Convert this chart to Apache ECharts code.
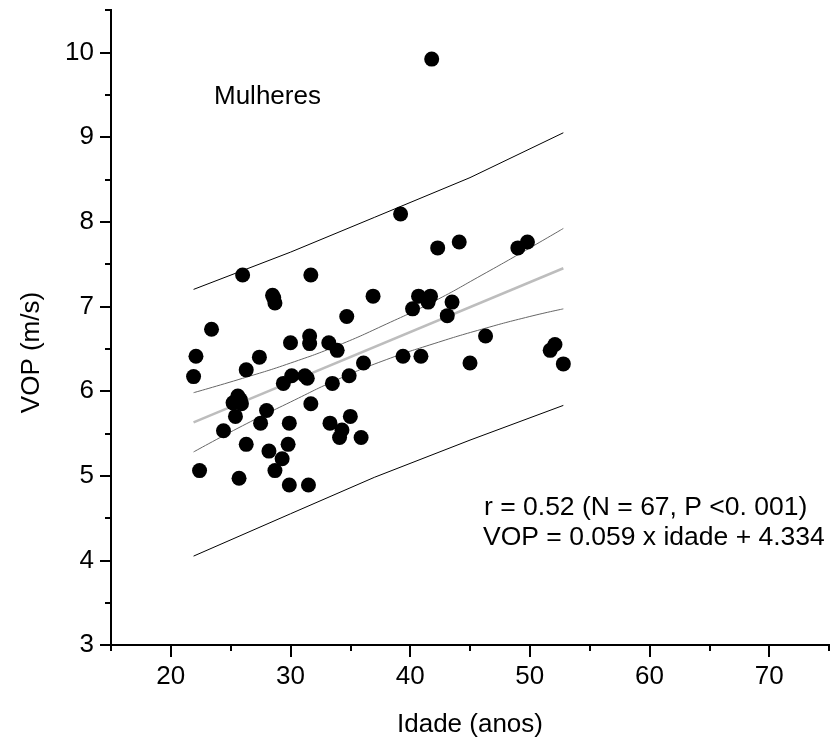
<!DOCTYPE html>
<html>
<head>
<meta charset="utf-8">
<script src="https://cdn.jsdelivr.net/npm/echarts@6/dist/echarts.min.js"></script>
<style>
  html, body { margin: 0; padding: 0; background: #fff; }
  #main { width: 839px; height: 751px; }
</style>
</head>
<body>
<div id="main"></div>
<script>
// pontos (idade, VOP)
const idade = [26.0, 31.7, 28.5, 28.7, 23.4, 34.7, 36.9, 22.1, 21.9, 27.4, 26.3, 30.0, 31.6, 31.6, 33.2, 33.9, 36.1,
  30.1, 29.4, 31.2, 33.5, 34.9, 25.6, 25.2, 25.9, 25.4, 28.0, 31.7, 24.4, 27.5, 29.9, 33.3, 35.0, 34.3, 34.1, 35.9,
  26.3, 29.8, 28.2, 29.3, 22.4, 25.7, 28.7, 29.9, 31.5,
  41.8, 39.2, 42.3, 44.1, 49.0, 49.8, 40.7, 41.7, 41.5, 40.2, 43.5, 43.1, 39.4, 40.9, 46.3, 45.0, 51.7, 52.1, 52.8,
  25.8, 31.4, 28.6];
const vop = [7.37, 7.37, 7.13, 7.04, 6.73, 6.88, 7.12, 6.41, 6.17, 6.40, 6.25, 6.57, 6.65, 6.56, 6.57, 6.48, 6.33,
  6.18, 6.09, 6.18, 6.09, 6.18, 5.94, 5.86, 5.85, 5.70, 5.77, 5.85, 5.53, 5.62, 5.62, 5.62, 5.70, 5.54, 5.45, 5.45,
  5.37, 5.37, 5.29, 5.20, 5.06, 4.97, 5.06, 4.89, 4.89,
  9.92, 8.09, 7.69, 7.76, 7.69, 7.76, 7.12, 7.12, 7.05, 6.97, 7.05, 6.89, 6.41, 6.41, 6.65, 6.33, 6.48, 6.55, 6.32,
  5.90, 6.15, 7.10];

// reta de regressão e bandas
const fitLine = [[21.9, 5.63], [52.8, 7.45]];
const confUpper = [[21.9, 5.98], [26, 6.15], [30, 6.33], [34, 6.54], [38, 6.79], [42, 7.06], [46, 7.37], [50, 7.69], [52.8, 7.92]];
const confLower = [[21.9, 5.28], [26, 5.59], [30, 5.87], [34, 6.14], [38, 6.37], [42, 6.56], [46, 6.73], [50, 6.88], [52.8, 6.97]];
const predUpper = [[21.9, 7.20], [30, 7.64], [37, 8.05], [45, 8.52], [52.8, 9.05]];
const predLower = [[21.9, 4.05], [30, 4.55], [37, 4.98], [45, 5.42], [52.8, 5.83]];

const xMajor = [20, 30, 40, 50, 60, 70];
const xMinor = [15, 25, 35, 45, 55, 65, 75];
const yMajor = [3, 4, 5, 6, 7, 8, 9, 10];
const yMinor = [3.5, 4.5, 5.5, 6.5, 7.5, 8.5, 9.5, 10.5];

const FONT = 'Liberation Sans';

let myChart = echarts.init(document.getElementById('main'));

const axisBase = {
  type: 'value',
  offset: 0,
  splitLine: { show: false },
  axisLine: { show: true, onZero: false, lineStyle: { color: '#000', width: 2 } }
};
// eixo só com marcas (sem rótulos)
const tickAxis = (min, max, pos, len, values) => ({
  ...axisBase, min, max, position: pos,
  axisTick: { show: true, length: len, lineStyle: { width: 2, color: '#000' }, customValues: values },
  axisLabel: { show: false }
});

myChart.setOption({
  animation: false,
  grid: { left: 111, top: 10, right: 10, bottom: 106 },
  xAxis: [
    {
      ...axisBase, min: 15, max: 75, position: 'bottom',
      axisTick: { show: false },
      axisLabel: { customValues: xMajor, margin: 19, fontSize: 26, fontFamily: FONT, color: '#000' },
      name: 'Idade (anos)', nameLocation: 'middle', nameGap: 67,
      nameTextStyle: { fontSize: 26, fontFamily: FONT, color: '#000' }
    },
    tickAxis(15, 75, 'bottom', 12, xMajor),
    tickAxis(15, 75, 'bottom', 6, xMinor)
  ],
  yAxis: [
    {
      ...axisBase, min: 3, max: 10.5, position: 'left',
      axisTick: { show: false },
      axisLabel: { customValues: yMajor, margin: 17, fontSize: 26, fontFamily: FONT, color: '#000' },
      name: 'VOP (m/s)', nameLocation: 'middle', nameGap: 66,
      nameTextStyle: { fontSize: 26, fontFamily: FONT, color: '#000', padding: [0, 50, 0, 0] }
    },
    tickAxis(3, 10.5, 'left', 11, yMajor),
    tickAxis(3, 10.5, 'left', 6, yMinor)
  ],
  graphic: [
    { type: 'text', left: 214, top: 84, style: { text: 'Mulheres', font: '26px "Liberation Sans"', fill: '#000' } },
    { type: 'text', left: 484, top: 494, style: { text: 'r = 0.52 (N = 67, P <0. 001)', font: '26.5px "Liberation Sans"', fill: '#000' } },
    { type: 'text', left: 483, top: 524, style: { text: 'VOP = 0.059 x idade + 4.334', font: '26.5px "Liberation Sans"', fill: '#000' } }
  ],
  series: [
    { type: 'line', data: predUpper, symbol: 'none', lineStyle: { color: '#000', width: 1 }, z: 1 },
    { type: 'line', data: predLower, symbol: 'none', lineStyle: { color: '#000', width: 1 }, z: 1 },
    { type: 'line', data: confUpper, smooth: true, symbol: 'none', lineStyle: { color: '#666', width: 1 }, z: 1 },
    { type: 'line', data: confLower, smooth: true, symbol: 'none', lineStyle: { color: '#666', width: 1 }, z: 1 },
    { type: 'line', data: fitLine, symbol: 'none', lineStyle: { color: '#bdbdbd', width: 2.5 }, z: 1 },
    {
      type: 'scatter',
      data: idade.map((a, i) => [a, vop[i]]),
      symbolSize: 15,
      itemStyle: { color: '#000', opacity: 1 },
      z: 3
    }
  ]
});
</script>
</body>
</html>
